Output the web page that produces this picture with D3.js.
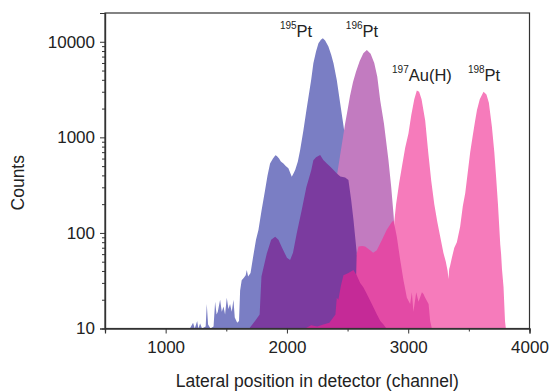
<!DOCTYPE html>
<html>
<head>
<meta charset="utf-8">
<script src="https://cdn.jsdelivr.net/npm/d3@7"></script>
<style>
  html, body { margin: 0; padding: 0; background: #fff; }
  svg { display: block; font-family: "Liberation Sans", Arial, sans-serif; }
</style>
</head>
<body>
<svg id="chart" width="550" height="392"></svg>
<script>
// ---- data (channel, counts) ----
const pt195 = [[1200,10],[1226,11.5],[1240,10],[1260,12],[1270,10],[1284,11.3],[1300,10],[1330,10.5],[1339,18],[1350,11],[1370,10],[1395,10.5],[1408,19],[1420,14],[1430,15],[1449,20],[1463,15],[1477,17],[1490,14],[1504,21],[1518,16],[1531,18],[1545,15],[1559,20],[1570,13],[1590,11.5],[1605,12],[1614,25],[1627,32],[1645,34],[1660,36],[1669,41],[1680,35],[1700,38],[1720,55],[1745,85],[1765,107],[1790,170],[1820,281],[1840,400],[1861,534],[1885,600],[1905,650],[1917,637],[1935,600],[1950,560],[1971,534],[1990,500],[2012,474],[2040,387],[2055,420],[2068,455],[2090,560],[2109,736],[2136,1190],[2160,1900],[2178,2660],[2200,4000],[2218,5960],[2240,7900],[2260,9640],[2280,10500],[2296,10900],[2315,10300],[2342,8920],[2365,7300],[2384,5960],[2411,3980],[2439,2270],[2460,1500],[2480,1000],[2520,450],[2560,150],[2600,50],[2640,15],[2660,10]];

const pt196 = [[2350,10],[2365,80],[2380,200],[2412,400],[2450,800],[2480,1400],[2500,1930],[2520,2700],[2545,3800],[2570,4900],[2600,6300],[2630,7600],[2659,8200],[2690,7500],[2720,6000],[2745,4300],[2769,2450],[2800,1400],[2837,578],[2860,300],[2880,150],[2900,60],[2920,20],[2935,10]];

const auPt198 = [[2850,10],[2870,50],[2885,130],[2900,200],[2925,330],[2948,492],[2975,780],[3002,1100],[3025,1700],[3050,2500],[3071,3100],[3090,3000],[3110,2500],[3140,1500],[3165,700],[3190,350],[3215,200],[3240,130],[3264,91],[3290,62],[3310,50],[3325,40],[3332,33],[3338,42],[3345,45],[3360,55],[3380,70],[3401,80],[3428,116],[3450,190],[3470,260],[3490,420],[3511,700],[3530,1000],[3550,1450],[3567,1930],[3590,2500],[3621,3000],[3645,2800],[3665,2300],[3690,1290],[3710,700],[3725,380],[3740,200],[3759,75],[3766,60],[3773,42],[3786,27],[3798,12],[3805,10]];

const darkPurple = [[1690,10],[1700,10.4],[1737,12],[1775,14],[1790,35],[1834,61],[1870,85],[1903,91],[1930,85],[1960,70],[2000,55],[2026,52],[2050,62],[2081,99],[2122,174],[2160,300],[2200,450],[2218,575],[2240,620],[2274,653],[2300,580],[2329,534],[2360,490],[2384,456],[2412,419],[2440,390],[2480,380],[2507,357],[2530,220],[2549,136],[2576,61],[2600,30],[2630,12],[2650,10]];

const mediumPink = [[2560,10],[2575,60],[2590,72],[2620,73],[2645,72],[2686,66],[2711,62],[2741,66],[2782,84],[2823,108],[2865,130],[2878,135],[2890,115],[2906,91],[2934,52],[2961,32],[2989,21],[3016,18],[3030,24],[3043,15],[3066,24],[3085,19],[3113,24],[3126,23],[3140,21],[3168,18],[3181,12],[3195,10]];

const magenta = [[2150,10],[2200,10.8],[2250,10.5],[2300,11],[2350,11.5],[2400,14],[2411,21],[2424,20],[2445,28],[2466,36],[2507,38],[2548,41],[2575,36],[2604,30],[2630,27],[2659,23],[2700,18],[2742,14],[2770,12],[2796,11],[2820,10]];

const seriesList = [
  {name: "195Pt", data: pt195, color: "#7a7ec4"},
  {name: "196Pt", data: pt196, color: "#c27bc0"},
  {name: "197Au(H)/198Pt", data: auPt198, color: "#f67bbb"},
  {name: "dark", data: darkPurple, color: "#7b3b9f"},
  {name: "mid", data: mediumPink, color: "#e34aa5"},
  {name: "magenta", data: magenta, color: "#c52a97"}
];

const xTicks = [1000, 2000, 3000, 4000];
const xMinor = [500, 1500, 2500, 3500];
const yTicks = [10, 100, 1000, 10000];
const labels = [
  {mass: "195", text: "Pt", x: 2075, y: 11150},
  {mass: "196", text: "Pt", x: 2619, y: 11150},
  {mass: "197", text: "Au(H)", x: 3113, y: 3890},
  {mass: "198", text: "Pt", x: 3625, y: 3890}
];

// ---- layout ----
const svg = d3.select("#chart");
const L = 105, R = 529.5, T = 13, B = 328.5;
const x = d3.scaleLinear().domain([500, 4000]).range([L, R]);
const y = d3.scaleLog().domain([10, 20000]).range([B, T]);

svg.append("clipPath").attr("id", "clip")
  .append("rect").attr("x", L).attr("y", T).attr("width", R - L).attr("height", B - T);

const area = d3.area()
  .x(d => x(d[0]))
  .y0(y(10))
  .y1(d => y(Math.max(10, d[1])));

const g = svg.append("g").attr("clip-path", "url(#clip)");
seriesList.forEach(s => {
  g.append("path").datum(s.data).attr("d", area).attr("fill", s.color);
});

// frame
svg.append("rect").attr("x", L).attr("y", T).attr("width", R - L).attr("height", B - T)
  .attr("fill", "none").attr("stroke", "#333").attr("stroke-width", 1.2);

// x axis
svg.append("g").attr("transform", `translate(0,${B})`)
  .call(d3.axisBottom(x).tickValues(xTicks).tickSize(5).tickPadding(7).tickFormat(d3.format("d")));
svg.append("g").attr("transform", `translate(0,${B})`)
  .call(d3.axisBottom(x).tickValues(xMinor).tickSize(3).tickFormat(""));

// y axis
const yMinor = [];
[10, 100, 1000].forEach(dec => { for (let k = 2; k <= 9; k++) yMinor.push(dec * k); });
svg.append("g").attr("transform", `translate(${L},0)`)
  .call(d3.axisLeft(y).tickValues(yTicks).tickSize(5).tickPadding(5).tickFormat(d3.format("d")));
svg.append("g").attr("transform", `translate(${L},0)`)
  .call(d3.axisLeft(y).tickValues(yMinor).tickSize(3).tickFormat(""));

svg.selectAll(".domain").attr("stroke", "#333").attr("stroke-width", 1.2);
svg.selectAll(".tick line").attr("stroke", "#333");
svg.selectAll(".tick text").attr("font-size", 17).attr("fill", "#222")
  .attr("font-family", "'Liberation Sans', Arial, sans-serif");

// axis titles
svg.append("text").attr("x", (L + R) / 2).attr("y", 387)
  .attr("text-anchor", "middle").attr("font-size", 17.5).attr("fill", "#222")
  .text("Lateral position in detector (channel)");
svg.append("text").attr("transform", `translate(24,${(T + B) / 2 + 12}) rotate(-90)`)
  .attr("text-anchor", "middle").attr("font-size", 17.5).attr("fill", "#222")
  .text("Counts");

// peak labels
labels.forEach(l => {
  const t = svg.append("text").attr("x", x(l.x)).attr("y", y(l.y))
    .attr("text-anchor", "middle").attr("fill", "#222").attr("font-size", 16.5);
  t.append("tspan").attr("font-size", 10).attr("dy", -8).text(l.mass);
  t.append("tspan").attr("dy", 8).text(l.text);
});
</script>
</body>
</html>
